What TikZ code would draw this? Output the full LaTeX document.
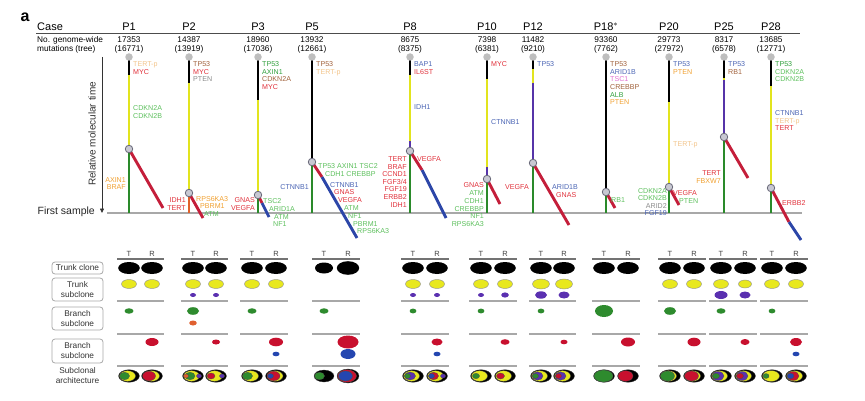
\documentclass[tikz,border=0pt]{standalone}
\usepackage{fontspec}
\setmainfont{Liberation Sans}
\usepackage{tikz}
\usetikzlibrary{arrows.meta, positioning}
% trunk and branch colours
\definecolor{tyel}{HTML}{E2E41E}
\definecolor{tgrn}{HTML}{2A8A2A}
\definecolor{tred}{HTML}{C41E3A}
\definecolor{tblu}{HTML}{2C46A8}
\definecolor{tpur}{HTML}{5634A8}
\definecolor{torg}{HTML}{E0602A}
% gene text colours
\definecolor{ctan}{HTML}{F2C48A}
\definecolor{cred}{HTML}{E0303A}
\definecolor{cgrn}{HTML}{5CBF5C}
\definecolor{cdgr}{HTML}{2E9E3A}
\definecolor{cbrn}{HTML}{A0603A}
\definecolor{cgry}{HTML}{8A8A8A}
\definecolor{cblu}{HTML}{4A64B4}
\definecolor{corg}{HTML}{F0A030}
\definecolor{cpnk}{HTML}{E070D0}
% misc
\definecolor{nodegray}{HTML}{C8C8D2}
\definecolor{nodeedge}{HTML}{6A6A7A}
\definecolor{dotgray}{HTML}{BEBEBE}
\definecolor{rulegray}{HTML}{A8A8A8}
\definecolor{ayel}{HTML}{E8E81E}
\definecolor{agrn}{HTML}{2E8B2E}
\definecolor{ared}{HTML}{C8102E}
\definecolor{ablu}{HTML}{2446B0}
\definecolor{apur}{HTML}{5A30B0}
\definecolor{aorg}{HTML}{E06030}

\newcommand{\gtan}[1]{\textcolor{ctan}{#1}}
\newcommand{\gred}[1]{\textcolor{cred}{#1}}
\newcommand{\ggrn}[1]{\textcolor{cgrn}{#1}}
\newcommand{\gdgr}[1]{\textcolor{cdgr}{#1}}
\newcommand{\gbrn}[1]{\textcolor{cbrn}{#1}}
\newcommand{\ggry}[1]{\textcolor{cgry}{#1}}
\newcommand{\gblu}[1]{\textcolor{cblu}{#1}}
\newcommand{\gorg}[1]{\textcolor{corg}{#1}}
\newcommand{\gpnk}[1]{\textcolor{cpnk}{#1}}

% nested clones of one sample
\newcommand{\archclone}[2]{%
  \foreach \lc/\lx/\la/\lb in {#2}
    \filldraw[fill=\lc, draw=black!70, line width=0.3pt] (#1+\lx,376) ellipse (\la pt and \lb pt);}

\tikzset{
  trunk/.style={line width=2.9pt},
  gene/.style={font=\fontsize{7.1}{7.6}\selectfont, inner sep=0pt, align=left},
  branchpt/.style={circle, fill=nodegray, draw=nodeedge, line width=0.8pt, minimum size=7.5pt, inner sep=0pt},
  topdot/.style={circle, fill=dotgray, minimum size=7.5pt, inner sep=0pt},
  casehd/.style={font=\fontsize{11}{13}\selectfont, inner sep=0pt},
  mutnum/.style={font=\fontsize{8.3}{9}\selectfont, align=center, inner sep=0pt},
  rowlab/.style={draw=rulegray, line width=0.8pt, rounded corners=3pt, minimum width=51pt,
    align=center, inner sep=1pt, text=black!80, font=\fontsize{8.3}{10}\selectfont},
  trhd/.style={font=\fontsize{7.5}{9}\selectfont, text=black!75, inner sep=0pt},
  hdrule/.style={draw=black!55, line width=1.1pt},
  tabrule/.style={draw=rulegray, line width=1.1pt},
  ysub/.style={fill=ayel, draw=black!45, line width=0.4pt},
}

\begin{document}
\begin{tikzpicture}[x=1pt, y=-1pt]
\useasboundingbox (0,0) rectangle (865,401);

% header
\node[font=\bfseries\fontsize{16}{18}\selectfont] (panel) at (25,17) {a};
\node[casehd, anchor=west] (casehd) at (37,27) {Case};
\coordinate (hl1) at (36,33);
\coordinate (hl2) at (800,33);
\draw[line width=0.9pt, black!70] (hl1) -- (hl2);
\node[mutnum, align=left, anchor=west] (mutlab) at (37,44.5) {No. genome-wide\\mutations (tree)};
\foreach \x/\p/\m/\t [count=\i] in {129/P1/17353/16771, 189/P2/14387/13919, 258/P3/18960/17036,
    312/P5/13932/12661, 410/P8/8675/8375, 487/P10/7398/6381, 533/P12/11482/9210,
    606/P18$^*$/93360/7762, 669/P20/29773/27972, 724/P25/8317/6578, 771/P28/13685/12771}{
  \node[casehd] (case\i) at (\x,27) {\p};
  \node[mutnum] (mut\i) at (\x,44.5) {\m\\(\t)};
}

% time axis and first sample
\coordinate (axtop) at (102,57);
\coordinate (axbot) at (102,213);
\draw[line width=0.8pt, black!80, -{Triangle[length=4.5pt,width=4pt]}] (axtop) -- (axbot);
\node[rotate=90, font=\fontsize{10}{12}\selectfont, text=black!80] (reltime) at (92,134) {Relative molecular time};
\node[anchor=east, font=\fontsize{10.5}{12}\selectfont, inner sep=0pt, text=black!85] (firsts) at (95,212) {First sample};
\coordinate (base1) at (107,213);
\coordinate (base2) at (802,213);
\draw[rulegray, line width=1.3pt] (base1) -- (base2);

% P1
\coordinate (p1top) at (129,57);
\coordinate (p1y) at (129,75);
\coordinate (p1n) at (129,149);
\coordinate (p1f) at (129,213);
\coordinate (p1e) at (163,208);
\draw[trunk] (p1top) -- (p1y);
\draw[trunk,tyel] (p1y) -- (p1n);
\draw[trunk,tgrn] (p1n) -- (p1f);
\draw[trunk,tred] (p1n) -- (p1e);
\node[topdot] (p1root) at (p1top) {};
\node[branchpt] (p1br) at (p1n) {};
\node[gene, anchor=north west] (p1a) at (133,61.5) {\gtan{TERT-p}\\\gred{MYC}};
\node[gene, anchor=north west] (p1b) at (133,105.5) {\ggrn{CDKN2A}\\\ggrn{CDKN2B}};
\node[gene, align=right, anchor=north east] (p1c) at (126,177) {\gorg{AXIN1}\\\gorg{BRAF}};

% P2
\coordinate (p2top) at (189,57);
\coordinate (p2y) at (189,83);
\coordinate (p2n) at (189,193);
\coordinate (p2f) at (189,213);
\coordinate (p2e) at (203,218);
\draw[trunk] (p2top) -- (p2y);
\draw[trunk,tyel] (p2y) -- (p2n);
\draw[trunk,torg] (p2n) -- (p2f);
\draw[trunk,tred] (p2n) -- (p2e);
\node[topdot] (p2root) at (p2top) {};
\node[branchpt] (p2br) at (p2n) {};
\node[gene, anchor=north west] (p2a) at (193,61.5) {\gbrn{TP53}\\\gred{MYC}\\\ggry{PTEN}};
\node[gene, align=right, anchor=north east] (p2b) at (186,197.5) {\gred{IDH1}\\\gred{TERT}};
\node[gene, anchor=west] (p2c) at (196,199) {\gorg{RPS6KA3}};
\node[gene, anchor=west] (p2d) at (200,206.5) {\gorg{PBRM1}};
\node[gene, anchor=west] (p2e) at (204,214) {\ggrn{ATM}};

% P3
\coordinate (p3top) at (258,57);
\coordinate (p3y) at (258,100);
\coordinate (p3n) at (258,195);
\coordinate (p3f) at (258,213);
\coordinate (p3m) at (262,203);
\coordinate (p3e) at (269,217);
\draw[trunk] (p3top) -- (p3y);
\draw[trunk,tyel] (p3y) -- (p3n);
\draw[trunk,tgrn] (p3n) -- (p3f);
\draw[trunk,tred] (p3n) -- (p3m);
\draw[trunk,tblu] (p3m) -- (p3e);
\node[topdot] (p3root) at (p3top) {};
\node[branchpt] (p3br) at (p3n) {};
\node[gene, anchor=north west] (p3a) at (262,61.5) {\gdgr{TP53}\\\gdgr{AXIN1}\\\gbrn{CDKN2A}\\\gred{MYC}};
\node[gene, align=right, anchor=north east] (p3b) at (255,197.5) {\gred{GNAS}\\\gred{VEGFA}};
\node[gene, anchor=west] (p3c) at (263,201) {\ggrn{TSC2}};
\node[gene, anchor=west] (p3d) at (269,209) {\ggrn{ARID1A}};
\node[gene, anchor=west] (p3e) at (274,217) {\ggrn{ATM}};
\node[gene, anchor=west] (p3g) at (273,224.5) {\ggrn{NF1}};

% P5
\coordinate (p5top) at (312,57);
\coordinate (p5n) at (312,162);
\coordinate (p5f) at (312,213);
\coordinate (p5m) at (322,177);
\coordinate (p5e) at (357,238);
\draw[trunk] (p5top) -- (p5n);
\draw[trunk,tgrn] (p5n) -- (p5f);
\draw[trunk,tred] (p5n) -- (p5m);
\draw[trunk,tblu] (p5m) -- (p5e);
\node[topdot] (p5root) at (p5top) {};
\node[branchpt] (p5br) at (p5n) {};
\node[gene, anchor=north west] (p5a) at (316,61.5) {\gbrn{TP53}\\\gtan{TERT-p}};
\node[gene, anchor=east] (p5b) at (309,187) {\gblu{CTNNB1}};
\node[gene, anchor=west] (p5c) at (318,166.5) {\ggrn{TP53 AXIN1 TSC2}};
\node[gene, anchor=west] (p5d) at (325,174) {\ggrn{CDH1 CREBBP}};
\node[gene, anchor=west] (p5e) at (330,185) {\gblu{CTNNB1}};
\node[gene, anchor=west] (p5g) at (334,192.5) {\gred{GNAS}};
\node[gene, anchor=west] (p5h) at (338,200) {\gred{VEGFA}};
\node[gene, anchor=west] (p5i) at (344,208) {\ggrn{ATM}};
\node[gene, anchor=west] (p5j) at (348,216.5) {\ggrn{NF1}};
\node[gene, anchor=west] (p5k) at (353,224) {\ggrn{PBRM1}};
\node[gene, anchor=west] (p5l) at (357,231.5) {\ggrn{RPS6KA3}};

% P8
\coordinate (p8top) at (410,57);
\coordinate (p8y) at (410,75);
\coordinate (p8p) at (410,141);
\coordinate (p8n) at (410,151);
\coordinate (p8f) at (410,213);
\coordinate (p8m) at (422,170);
\coordinate (p8e) at (446,218);
\draw[trunk] (p8top) -- (p8y);
\draw[trunk,tyel] (p8y) -- (p8p);
\draw[trunk,tpur] (p8p) -- (p8n);
\draw[trunk,tgrn] (p8n) -- (p8f);
\draw[trunk,tred] (p8n) -- (p8m);
\draw[trunk,tblu] (p8m) -- (p8e);
\node[topdot] (p8root) at (p8top) {};
\node[branchpt] (p8br) at (p8n) {};
\node[gene, anchor=north west] (p8a) at (414,61.5) {\gblu{BAP1}\\\gred{IL6ST}};
\node[gene, anchor=west] (p8b) at (414,107) {\gblu{IDH1}};
\node[gene, align=right, anchor=north east] (p8c) at (407,156.5)
  {\gred{TERT}\\\gred{BRAF}\\\gred{CCND1}\\\gred{FGF3/4}\\\gred{FGF19}\\\gred{ERBB2}\\\gred{IDH1}};
\node[gene, anchor=west] (p8d) at (417,159) {\gred{VEGFA}};

% P10
\coordinate (p10top) at (487,57);
\coordinate (p10y) at (487,79);
\coordinate (p10p) at (487,167);
\coordinate (p10n) at (487,179);
\coordinate (p10f) at (487,213);
\coordinate (p10e) at (500,204);
\draw[trunk] (p10top) -- (p10y);
\draw[trunk,tyel] (p10y) -- (p10p);
\draw[trunk,tpur] (p10p) -- (p10n);
\draw[trunk,tgrn] (p10n) -- (p10f);
\draw[trunk,tred] (p10n) -- (p10e);
\node[topdot] (p10root) at (p10top) {};
\node[branchpt] (p10br) at (p10n) {};
\node[gene, anchor=west] (p10a) at (491,64) {\gred{MYC}};
\node[gene, anchor=west] (p10b) at (491,122) {\gblu{CTNNB1}};
\node[gene, align=right, anchor=north east, font=\fontsize{7.1}{7.8}\selectfont] (p10c) at (484,182.5)
  {\gred{GNAS}\\\ggrn{ATM}\\\ggrn{CDH1}\\\ggrn{CREBBP}\\\ggrn{NF1}\\\ggrn{RPS6KA3}};

% P12
\coordinate (p12top) at (533,57);
\coordinate (p12y) at (533,69);
\coordinate (p12p) at (533,83);
\coordinate (p12n) at (533,163);
\coordinate (p12f) at (533,213);
\coordinate (p12e) at (569,225);
\draw[trunk] (p12top) -- (p12y);
\draw[trunk,tyel] (p12y) -- (p12p);
\draw[trunk,tpur] (p12p) -- (p12n);
\draw[trunk,tgrn] (p12n) -- (p12f);
\draw[trunk,tred] (p12n) -- (p12e);
\node[topdot] (p12root) at (p12top) {};
\node[branchpt] (p12br) at (p12n) {};
\node[gene, anchor=west] (p12a) at (537,64) {\gblu{TP53}};
\node[gene, anchor=east] (p12b) at (529,187) {\gred{VEGFA}};
\node[gene, anchor=west] (p12c) at (552,187) {\gblu{ARID1B}};
\node[gene, anchor=west] (p12d) at (556,195) {\gred{GNAS}};

% P18
\coordinate (p18top) at (606,57);
\coordinate (p18n) at (606,192);
\coordinate (p18f) at (606,213);
\coordinate (p18e) at (615,208);
\draw[trunk] (p18top) -- (p18n);
\draw[trunk,tgrn] (p18n) -- (p18f);
\draw[trunk,tred] (p18n) -- (p18e);
\node[topdot] (p18root) at (p18top) {};
\node[branchpt] (p18br) at (p18n) {};
\node[gene, anchor=north west] (p18a) at (610,61.5)
  {\gbrn{TP53}\\\gblu{ARID1B}\\\gpnk{TSC1}\\\gbrn{CREBBP}\\\gdgr{ALB}\\\gorg{PTEN}};
\node[gene, anchor=west] (p18b) at (611,200) {\ggrn{RB1}};

% P20
\coordinate (p20top) at (669,57);
\coordinate (p20y) at (669,102);
\coordinate (p20n) at (669,187);
\coordinate (p20f) at (669,213);
\coordinate (p20e) at (679,205);
\draw[trunk] (p20top) -- (p20y);
\draw[trunk,tyel] (p20y) -- (p20n);
\draw[trunk,tgrn] (p20n) -- (p20f);
\draw[trunk,tred] (p20n) -- (p20e);
\node[topdot] (p20root) at (p20top) {};
\node[branchpt] (p20br) at (p20n) {};
\node[gene, anchor=north west] (p20a) at (673,61.5) {\gblu{TP53}\\\gorg{PTEN}};
\node[gene, anchor=west] (p20b) at (673,145) {\gtan{TERT-p}};
\node[gene, align=right, anchor=north east] (p20c) at (667,188)
  {\ggrn{CDKN2A}\\\ggrn{CDKN2B}\\\ggry{ARID2}\\\gblu{FGF19}};
\node[gene, anchor=west] (p20d) at (673,193) {\gred{VEGFA}};
\node[gene, anchor=west] (p20e) at (679,201) {\ggrn{PTEN}};

% P25
\coordinate (p25top) at (724,57);
\coordinate (p25y) at (724,78);
\coordinate (p25p) at (724,80);
\coordinate (p25n) at (724,137);
\coordinate (p25f) at (724,213);
\coordinate (p25e) at (748,178);
\draw[trunk] (p25top) -- (p25y);
\draw[trunk,tyel] (p25y) -- (p25p);
\draw[trunk,tpur] (p25p) -- (p25n);
\draw[trunk,tgrn] (p25n) -- (p25f);
\draw[trunk,tred] (p25n) -- (p25e);
\node[topdot] (p25root) at (p25top) {};
\node[branchpt] (p25br) at (p25n) {};
\node[gene, anchor=north west] (p25a) at (728,61.5) {\gblu{TP53}\\\gbrn{RB1}};
\node[gene, align=right, anchor=north east] (p25b) at (721,170.5) {\gred{TERT}\\\gorg{FBXW7}};

% P28
\coordinate (p28top) at (771,57);
\coordinate (p28y) at (771,86);
\coordinate (p28n) at (771,188);
\coordinate (p28f) at (771,213);
\coordinate (p28m) at (789,222);
\coordinate (p28e) at (801,240);
\draw[trunk] (p28top) -- (p28y);
\draw[trunk,tyel] (p28y) -- (p28n);
\draw[trunk,tgrn] (p28n) -- (p28f);
\draw[trunk,tred] (p28n) -- (p28m);
\draw[trunk,tblu] (p28m) -- (p28e);
\node[topdot] (p28root) at (p28top) {};
\node[branchpt] (p28br) at (p28n) {};
\node[gene, anchor=north west] (p28a) at (775,61.5) {\gdgr{TP53}\\\ggrn{CDKN2A}\\\ggrn{CDKN2B}};
\node[gene, anchor=north west] (p28b) at (775,110.5) {\gblu{CTNNB1}\\\gtan{TERT-p}\\\gred{TERT}};
\node[gene, anchor=west] (p28c) at (782,203) {\gred{ERBB2}};

% clone table: row labels
\node[rowlab, minimum height=12pt] (rtc) at (77.5,268) {Trunk clone};
\node[rowlab, minimum height=23pt] (rts) at (77.5,289.5) {Trunk\\subclone};
\node[rowlab, minimum height=23pt] (rb1) at (77.5,318.5) {Branch\\subclone};
\node[rowlab, minimum height=24pt] (rb2) at (77.5,351) {Branch\\subclone};
\node[align=center, inner sep=0pt, text=black!80, font=\fontsize{8.3}{10}\selectfont] (rarch) at (77.5,376) {Subclonal\\architecture};

% columns T / R
\foreach \tx/\rx in {129/152,193/216,252/276,324/348,413/437,481/505,541/564,604/628,670/694,721/745,772/796}{
  \node[trhd] (T\tx) at (\tx,254) {T};
  \node[trhd] (R\tx) at (\rx,254) {R};
  \draw[hdrule] (\tx-12,259) -- (\rx+12,259);
  \foreach \yy in {301,334,366} \draw[tabrule] (\tx-12,\yy) -- (\rx+12,\yy);
}

% trunk clone
\foreach \xx in {129,152,193,216,252,276,413,437,481,505,541,564,604,628,670,694,721,745,772,796}
  \fill (\xx,268) ellipse (10.8pt and 6pt);
\fill (324,268) ellipse (9pt and 5.5pt);
\fill (348,268) ellipse (11.2pt and 6.8pt);

% trunk subclone
\foreach \xx in {129,152,193,216,252,276,413,437,481,505,670,694,721,772,796}
  \filldraw[ysub] (\xx,284) ellipse (7.5pt and 4.5pt);
\filldraw[ysub] (541,284) ellipse (8.5pt and 5pt);
\filldraw[ysub] (564,284) ellipse (8.5pt and 5pt);
\filldraw[ysub] (745,284) ellipse (6.5pt and 4pt);
\foreach \xx in {193,216,413,437,481}
  \fill[apur] (\xx,295) ellipse (3pt and 2pt);
\fill[apur] (505,295) ellipse (3.8pt and 2.6pt);
\fill[apur] (541,295) ellipse (6pt and 3.7pt);
\fill[apur] (564,295) ellipse (5.5pt and 3.5pt);
\fill[apur] (721,295) ellipse (6.5pt and 4pt);
\fill[apur] (745,295) ellipse (5.5pt and 3.5pt);

% branch subclone (tumour)
\foreach \xx in {129,252,324,721}
  \fill[agrn] (\xx,311) ellipse (4.5pt and 2.7pt);
\foreach \xx in {413,481,541,772}
  \fill[agrn] (\xx,311) ellipse (3.4pt and 2.4pt);
\fill[agrn] (193,311) ellipse (6pt and 3.8pt);
\fill[agrn] (670,311) ellipse (6pt and 3.8pt);
\fill[agrn] (604,311) ellipse (9pt and 6pt);
\fill[aorg] (193,323) ellipse (3.8pt and 2.5pt);

% branch subclone (recurrence)
\fill[ared] (152,342) ellipse (6.5pt and 4pt);
\fill[ared] (216,342) ellipse (4pt and 2.5pt);
\fill[ared] (276,342) ellipse (7pt and 4.3pt);
\fill[ared] (348,342) ellipse (10.5pt and 6.5pt);
\fill[ared] (437,342) ellipse (5.5pt and 3.5pt);
\fill[ared] (505,342) ellipse (4.5pt and 2.8pt);
\fill[ared] (564,342) ellipse (3.5pt and 2.3pt);
\fill[ared] (628,342) ellipse (7pt and 4.5pt);
\fill[ared] (694,342) ellipse (6.5pt and 4.3pt);
\fill[ared] (745,342) ellipse (4.5pt and 3pt);
\fill[ared] (796,342) ellipse (6pt and 4pt);
\fill[ablu] (276,354) ellipse (3.5pt and 2.3pt);
\fill[ablu] (348,354) ellipse (7.5pt and 5pt);
\fill[ablu] (437,354) ellipse (3.5pt and 2.3pt);
\fill[ablu] (796,354) ellipse (3.5pt and 2.3pt);

% subclonal architecture
\archclone{129}{black/0/10.5/6.3, ayel/-1.5/8/5.3, agrn/-4.5/5/3.8}
\archclone{152}{black/0/10.5/6.3, ayel/-0.5/8/5.3, ared/-3/6.5/4.8}
\archclone{193}{black/0/10.5/6.3, ayel/-1.5/8/5.3, agrn/-3/5/3.8, aorg/-7/2.5/2, apur/6/2.5/2}
\archclone{216}{black/0/10.5/6.3, ayel/-1.5/8/5.3, ared/-5/4/3, apur/6/2.5/2}
\archclone{252}{black/0/10.5/6.3, ayel/-1.5/8/5.3, agrn/-4.5/5/3.8}
\archclone{276}{black/0/10.5/6.3, ayel/-1/8/5.3, ared/-2.5/6.5/4.8, ablu/-5.5/3/2.5}
\archclone{324}{black/0/10/6, agrn/-4.5/5/3.8}
\archclone{348}{black/0/11/7, ared/-1/9.5/6.3, ablu/-2.5/7/5}
\archclone{413}{black/0/10.5/6.3, ayel/-1.5/8/5.3, apur/-3/5.5/4, agrn/-5.5/3/2.5}
\archclone{437}{black/0/10.5/6.3, ayel/-1.5/8/5.3, apur/6/2.5/2, ared/-3.5/5/3.8, ablu/-5.5/3/2.5}
\archclone{481}{black/0/10.5/6.3, ayel/-1.5/8/5.3, agrn/-5/3.5/2.7}
\archclone{505}{black/0/10.5/6.3, ayel/-1.5/8/5.3, ared/-4.5/4/3}
\archclone{541}{black/0/10.5/6.3, ayel/-1.5/8/5.3, apur/-3.5/5.5/4.2, agrn/-5.5/3/2.5}
\archclone{564}{black/0/10.5/6.3, ayel/-1.5/8/5.3, apur/-3.5/5.5/4.2, ared/-5.5/3/2.5}
\archclone{604}{black/0/10.5/6.3, agrn/-0.5/9.5/6}
\archclone{628}{black/0/10.5/6.3, ared/-2.5/7.5/5.3}
\archclone{670}{black/0/10.5/6.3, ayel/-1.5/8/5.3, agrn/-2.5/7/5}
\archclone{694}{black/0/10.5/6.3, ayel/-1.5/8/5.3, ared/-2.5/7/5}
\archclone{721}{black/0/10.5/6.3, ayel/-1.5/8/5.3, apur/-3/6/4.5, agrn/-5/3.5/2.8}
\archclone{745}{black/0/10.5/6.3, ayel/-1.5/8/5.3, apur/-3/6/4.5, ared/-5/3.5/2.8}
\archclone{772}{black/0/10.5/6.3, ayel/-1/8.5/5.5, agrn/-6/3/2.5}
\archclone{796}{black/0/10.5/6.3, ayel/-1.5/8/5.3, ared/-3/6/4.5, ablu/-5.5/3.5/2.8}
\end{tikzpicture}
\end{document}
